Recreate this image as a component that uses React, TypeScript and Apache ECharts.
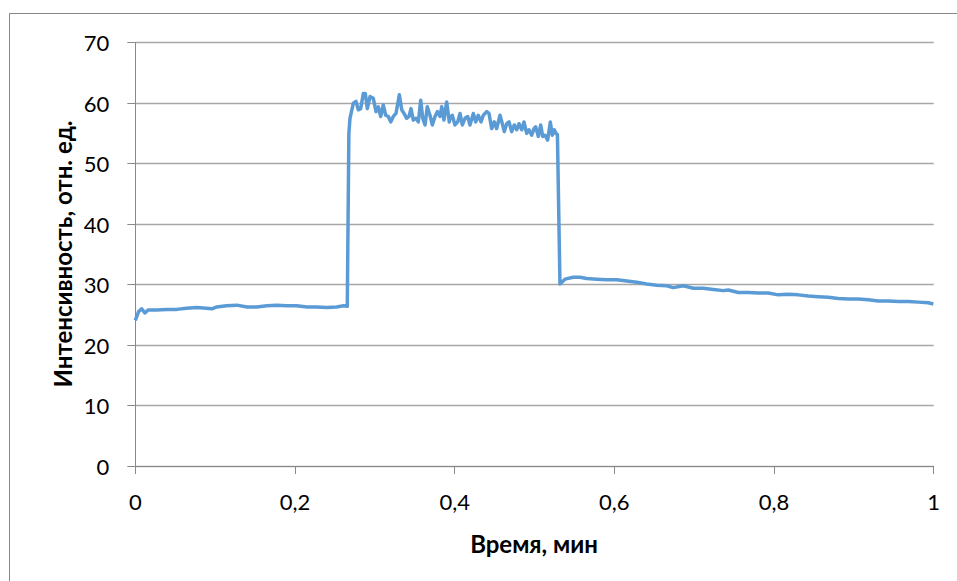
import React, { useEffect, useRef } from "react";
import * as echarts from "echarts";

// Time, min
const lowTime = [0.0, 0.004, 0.008, 0.012, 0.016, 0.027, 0.039, 0.052, 0.064, 0.077, 0.089, 0.096, 0.102, 0.114, 0.127, 0.14, 0.152, 0.165, 0.177, 0.19, 0.202, 0.215, 0.227, 0.24, 0.252, 0.261, 0.2655];
const lowValue = [24.1, 25.5, 26.0, 25.3, 25.8, 25.8, 25.9, 25.9, 26.1, 26.2, 26.1, 26.0, 26.3, 26.5, 26.6, 26.3, 26.3, 26.5, 26.6, 26.5, 26.5, 26.3, 26.3, 26.2, 26.3, 26.5, 26.4];

const highTime = [0.2675, 0.2689, 0.2731, 0.2764, 0.2793, 0.2823, 0.2856, 0.2881, 0.2906, 0.294, 0.2981, 0.3015, 0.3044, 0.3074, 0.3106, 0.3136, 0.3169, 0.3199, 0.3231, 0.3265, 0.3307, 0.3337, 0.3366, 0.3399, 0.3428, 0.3453, 0.3482, 0.3516, 0.3545, 0.3575, 0.36, 0.3629, 0.3657, 0.3691, 0.372, 0.3754, 0.3783, 0.3816, 0.3838, 0.3866, 0.39, 0.3933, 0.3942, 0.397, 0.4004, 0.4038, 0.4067, 0.4096, 0.413, 0.4163, 0.4192, 0.4234, 0.4264, 0.4296, 0.433, 0.4359, 0.4401, 0.443, 0.4464, 0.4496, 0.4526, 0.4568, 0.4597, 0.4622, 0.4652, 0.4681, 0.4714, 0.4747, 0.4777, 0.4806, 0.484, 0.4868, 0.4902, 0.4931, 0.4965, 0.4994, 0.5015, 0.5048, 0.5078, 0.5103, 0.5132, 0.5165, 0.5198, 0.5223, 0.5248, 0.5269, 0.5287];
const highValue = [55.0, 57.5, 60.0, 60.3, 58.9, 59.1, 61.6, 61.6, 59.1, 61.1, 60.8, 58.6, 59.4, 57.8, 59.7, 58.0, 57.8, 56.9, 57.8, 58.3, 61.4, 58.9, 58.3, 57.5, 57.8, 59.1, 57.2, 57.5, 56.9, 60.5, 57.5, 56.4, 59.4, 58.0, 56.4, 57.8, 58.6, 57.8, 59.4, 57.2, 60.2, 56.9, 57.5, 58.0, 56.4, 56.9, 58.3, 56.4, 57.5, 57.8, 56.4, 58.3, 56.9, 58.0, 56.9, 58.0, 58.6, 58.3, 55.8, 56.9, 55.8, 58.0, 56.6, 55.3, 56.6, 56.9, 55.3, 56.4, 55.6, 56.6, 55.6, 56.9, 55.0, 55.6, 54.7, 55.8, 56.1, 54.5, 56.4, 54.5, 54.7, 53.9, 56.9, 54.7, 55.6, 55.0, 54.8];

const tailTime = [0.5319, 0.5382, 0.5486, 0.557, 0.5654, 0.5779, 0.5904, 0.603, 0.6155, 0.628, 0.6405, 0.6531, 0.6656, 0.6738, 0.6864, 0.6989, 0.7114, 0.724, 0.7365, 0.7427, 0.7553, 0.7678, 0.7803, 0.7928, 0.8054, 0.8179, 0.8304, 0.8429, 0.8555, 0.868, 0.8805, 0.893, 0.9056, 0.9181, 0.9306, 0.9431, 0.9557, 0.9682, 0.9807, 0.9932, 0.9995];
const tailValue = [30.1, 30.9, 31.2, 31.2, 31.0, 30.9, 30.8, 30.8, 30.6, 30.4, 30.1, 29.9, 29.8, 29.5, 29.8, 29.4, 29.4, 29.2, 29.0, 29.1, 28.7, 28.7, 28.6, 28.6, 28.3, 28.4, 28.3, 28.1, 28.0, 27.9, 27.7, 27.6, 27.6, 27.5, 27.3, 27.3, 27.2, 27.2, 27.1, 27.0, 26.8];

const xTitle = "Время, мин";
const yTitle = "Интенсивность, отн. ед.";

const FONT = "Lato, 'Open Sans', sans-serif";

export default function App() {
  const ref = useRef<HTMLDivElement>(null);
  useEffect(() => {
    if (!ref.current) return;
    const chart = echarts.init(ref.current, undefined, { renderer: "svg" });
    const times = [...lowTime, ...highTime, ...tailTime];
    const values = [...lowValue, ...highValue, ...tailValue];
    const data = times.map((t, i) => [t, values[i]]);
    chart.setOption({
      animation: false,
      backgroundColor: "#ffffff",
      grid: { left: 135.3, right: 23.3, top: 42.7, bottom: 115, containLabel: false },
      xAxis: {
        type: "value",
        min: 0,
        max: 1,
        interval: 0.2,
        axisLine: { show: true, lineStyle: { color: "#898989", width: 1 } },
        axisTick: { show: true, length: 8, inside: false, lineStyle: { color: "#898989" } },
        splitLine: { show: false },
        axisLabel: {
          margin: 24,
          fontSize: 22,
          fontFamily: FONT,
          color: "#000000",
          formatter: (v: number) => {
            const r = Math.round(v * 10) / 10;
            return String(r).replace(".", ",");
          },
        },
      },
      yAxis: {
        type: "value",
        min: 0,
        max: 70,
        interval: 10,
        axisLine: { show: true, lineStyle: { color: "#898989", width: 1 } },
        axisTick: { show: true, length: 8, inside: false, lineStyle: { color: "#898989" } },
        splitLine: { show: true, lineStyle: { color: "#a6a6a6", width: 1.3 } },
        axisLabel: {
          margin: 26,
          fontSize: 22,
          fontFamily: FONT,
          color: "#000000",
        },
      },
      graphic: [
        {
          type: "rect",
          shape: { x: 9.5, y: 13.5, width: 1200, height: 1200 },
          style: { fill: "none", stroke: "#868686", lineWidth: 1 },
          silent: true,
        },
        {
          type: "text",
          x: 534,
          y: 543,
          style: {
            text: xTitle,
            fontSize: 24,
            fontWeight: "bold",
            fontFamily: FONT,
            fill: "#000000",
            align: "center",
            verticalAlign: "middle",
          },
        },
        {
          type: "text",
          x: 62,
          y: 254,
          rotation: Math.PI / 2,
          style: {
            text: yTitle,
            fontSize: 24,
            fontWeight: "bold",
            fontFamily: FONT,
            fill: "#000000",
            align: "center",
            verticalAlign: "middle",
          },
        },
      ],
      series: [
        {
          type: "line",
          data,
          showSymbol: false,
          symbol: "none",
          smooth: false,
          lineStyle: { color: "#5b9bd5", width: 3.5, join: "round" },
          itemStyle: { color: "#5b9bd5" },
        },
      ],
    });
    return () => chart.dispose();
  }, []);
  return (
    <div
      ref={ref}
      style={{ position: "absolute", left: 0, top: 0, width: 957, height: 581, background: "#ffffff" }}
    />
  );
}
